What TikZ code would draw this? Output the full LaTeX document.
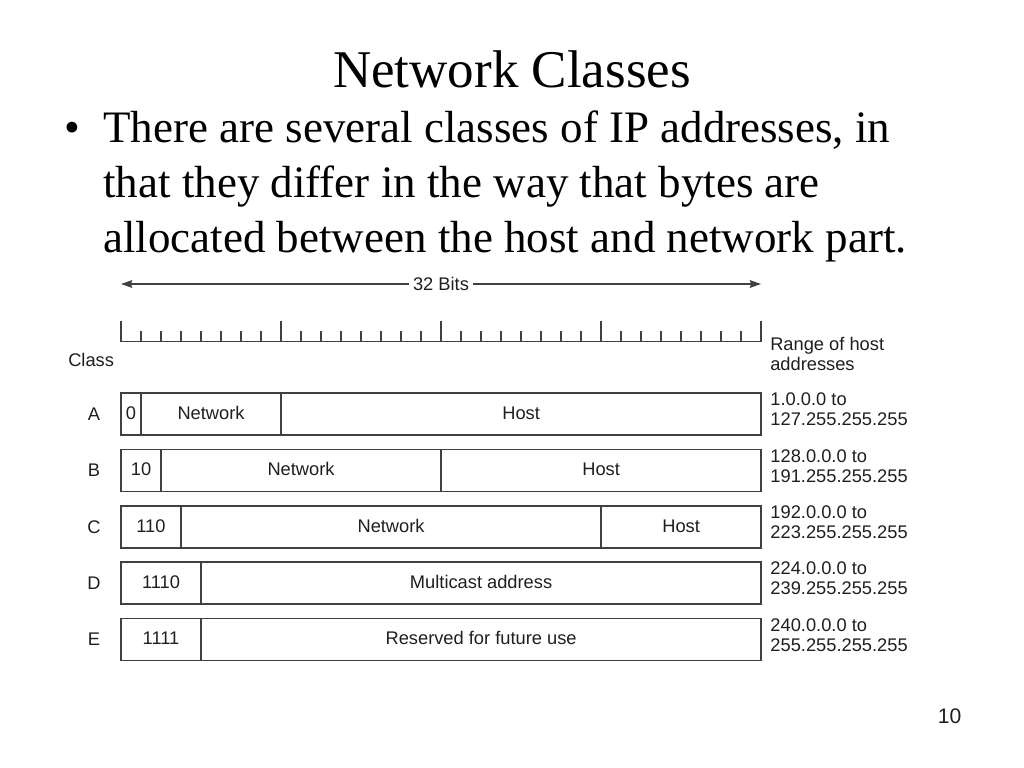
\documentclass[tikz,border=0pt]{standalone}
\usepackage{fontspec}
\setmainfont{Liberation Serif}
\setsansfont{Liberation Sans}
\usetikzlibrary{arrows.meta,positioning,calc}
\definecolor{rule}{rgb}{0.25,0.25,0.25}
\definecolor{ink}{rgb}{0.12,0.12,0.12}
\newcommand{\bitw}{0.5cm}

\begin{document}
\begin{tikzpicture}
      [x = 0.025cm, y = -0.025cm,
      slidetext/.style= {
         inner sep = 0pt,
         font = \fontsize{32}{38}\selectfont
      },
      heading/.style= {
         inner sep = 0pt,
         font = \fontsize{37.7}{45}\selectfont
      },
      field/.style= {
         draw = rule,
         line width = 1pt,
         rectangle,
         text = ink,
         inner sep = 0pt,
         outer sep = 0pt,
         text height = 0.72em,
         text depth = 0pt,
         minimum height = 1.05cm,
         font = \sffamily\fontsize{13}{15}\selectfont
      },
      sftext/.style= {
         text = ink,
         inner sep = 0pt,
         font = \sffamily\fontsize{13}{15}\selectfont
      },
      addr/.style= {
         sftext,
         align = left,
         font = \sffamily\fontsize{13}{14.2}\selectfont
      },
      ruler/.style= {draw = rule, line width = 1pt},
      bitspan/.style= {
         draw = rule,
         line width = 1pt,
         -{Stealth[length = 8pt, width = 5.5pt, inset = 1pt]}
      }]

      \useasboundingbox (0, 0) rectangle (1024, 768);
      \fill[white] (0, 0) rectangle (1024, 768);

      \node[heading, anchor = base] (title) at (512, 88) {Network Classes};

      \node[slidetext, anchor = base] (dot) at (72, 143) {\textbullet};
      \node[slidetext, anchor = base west] (line1) at (103, 143)
         {There are several classes of IP addresses, in};
      \node[slidetext, anchor = base west] (line2) at (103, 197)
         {that they differ in the way that bytes are};
      \node[slidetext, anchor = base west] (line3) at (103, 252)
         {allocated between the host and network part.};

      % 32 bit span
      \node[sftext, inner sep = 3pt] (bits) at (441, 284) {32 Bits};
      \coordinate (bitsL) at (121, 284);
      \coordinate (bitsR) at (761, 284);
      \draw[bitspan] (bits) -- (bitsL);
      \draw[bitspan] (bits) -- (bitsR);

      % ruler, one tick per bit
      \draw[ruler] (121, 341.5) -- (761, 341.5);
      \foreach \i in {0,...,32} {
         \pgfmathsetmacro\len{mod(\i,8) == 0 ? 20.5 : 10.5}
         \draw[ruler] (121 + 20*\i, 341.5) -- ++(0, -\len);
      }

      \node[sftext, anchor = base west] (classhead) at (68, 366) {Class};
      \node[addr, anchor = west] (rangehead) at (770, 354)
         {Range of host\\addresses};

      % class A
      \node[field, minimum width = 1*\bitw, anchor = north west] (a0) at (121, 393) {0};
      \node[field, minimum width = 7*\bitw, right = 0pt of a0] (a1) {Network};
      \node[field, minimum width = 24*\bitw, right = 0pt of a1] (a2) {Host};
      \node[sftext] (clA) at ($(a0.west) + (-27, 0)$) {A};
      \node[addr, right = 0.225cm of a2, yshift = 0.11cm] (rA) {1.0.0.0 to\\127.255.255.255};

      % class B
      \node[field, minimum width = 2*\bitw, anchor = north west] (b0) at (121, 449.5) {10};
      \node[field, minimum width = 14*\bitw, right = 0pt of b0] (b1) {Network};
      \node[field, minimum width = 16*\bitw, right = 0pt of b1] (b2) {Host};
      \node[sftext] (clB) at ($(b0.west) + (-27, 0)$) {B};
      \node[addr, right = 0.225cm of b2, yshift = 0.11cm] (rB) {128.0.0.0 to\\191.255.255.255};

      % class C
      \node[field, minimum width = 3*\bitw, anchor = north west] (c0) at (121, 506) {110};
      \node[field, minimum width = 21*\bitw, right = 0pt of c0] (c1) {Network};
      \node[field, minimum width = 8*\bitw, right = 0pt of c1] (c2) {Host};
      \node[sftext] (clC) at ($(c0.west) + (-27, 0)$) {C};
      \node[addr, right = 0.225cm of c2, yshift = 0.11cm] (rC) {192.0.0.0 to\\223.255.255.255};

      % class D
      \node[field, minimum width = 4*\bitw, anchor = north west] (d0) at (121, 562) {1110};
      \node[field, minimum width = 28*\bitw, right = 0pt of d0] (d1) {Multicast address};
      \node[sftext] (clD) at ($(d0.west) + (-27, 0)$) {D};
      \node[addr, right = 0.225cm of d1, yshift = 0.11cm] (rD) {224.0.0.0 to\\239.255.255.255};

      % class E
      \node[field, minimum width = 4*\bitw, anchor = north west] (e0) at (121, 618.5) {1111};
      \node[field, minimum width = 28*\bitw, right = 0pt of e0] (e1) {Reserved for future use};
      \node[sftext] (clE) at ($(e0.west) + (-27, 0)$) {E};
      \node[addr, right = 0.225cm of e1, yshift = 0.11cm] (rE) {240.0.0.0 to\\255.255.255.255};

      \node[sftext, anchor = base, font = \sffamily\fontsize{15}{17}\selectfont] (page) at (949.5, 723) {10};

   \end{tikzpicture}
\end{document}
